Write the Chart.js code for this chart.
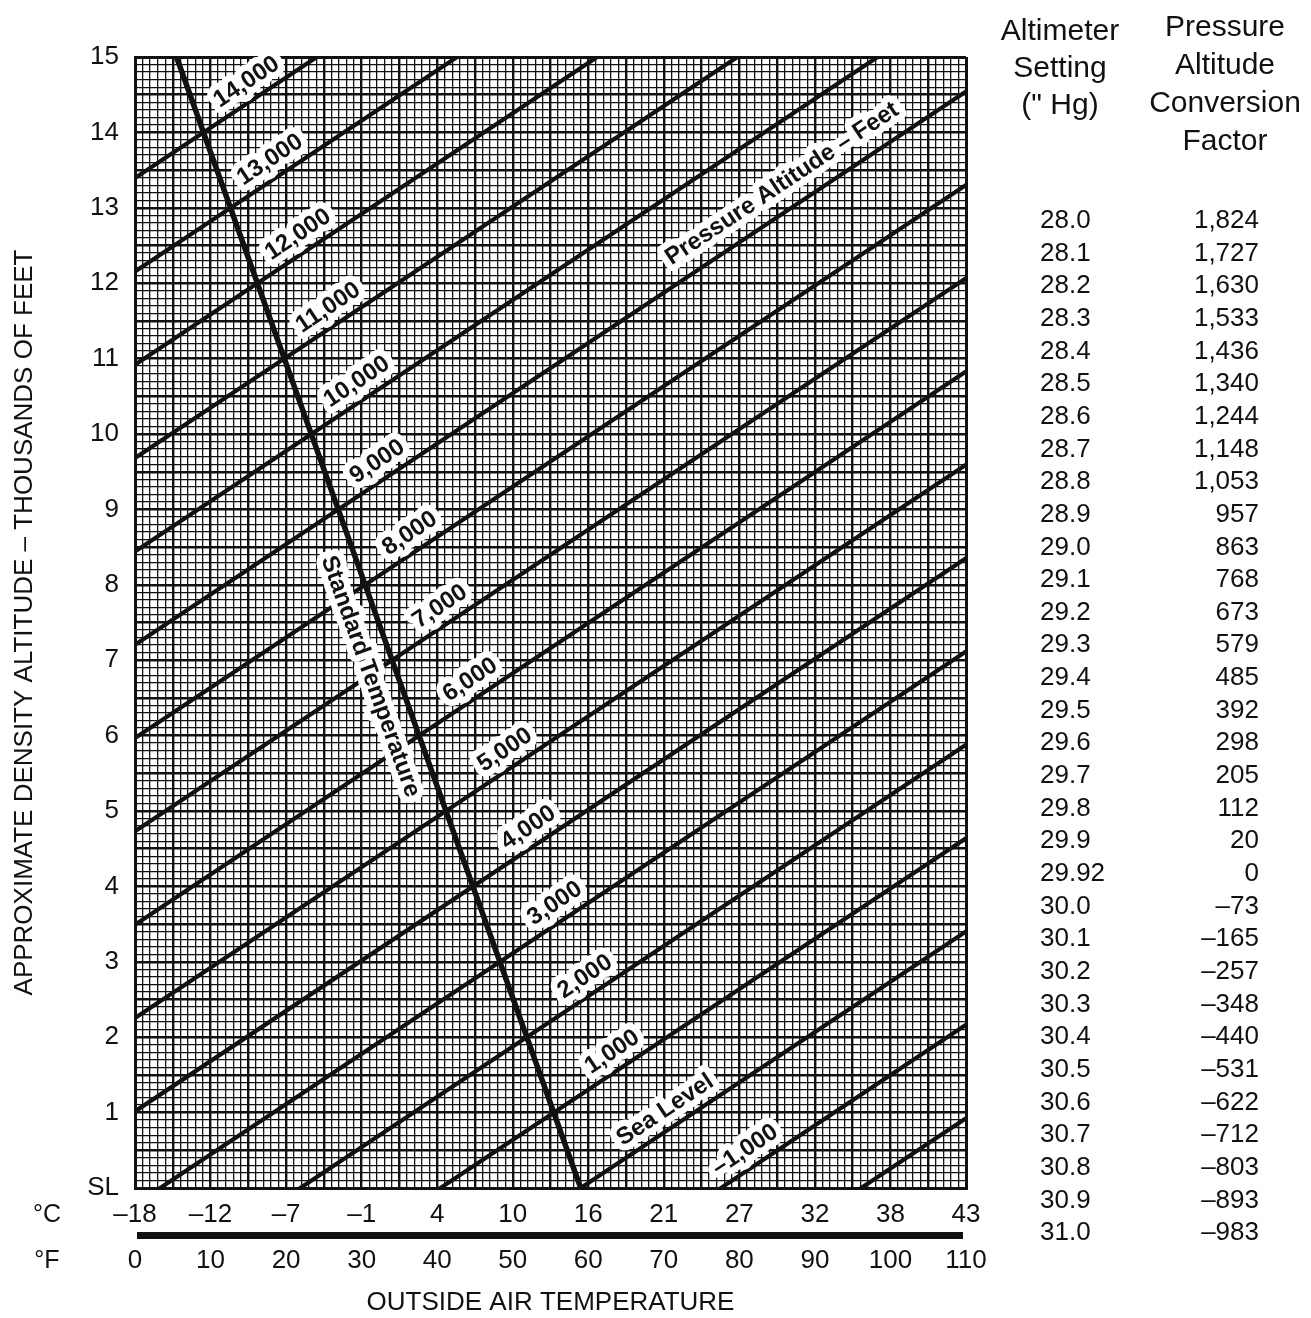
<!DOCTYPE html>
<html>
<head>
<meta charset="utf-8">
<title>Density Altitude Chart</title>
<script src="https://cdn.jsdelivr.net/npm/chart.js@4.4.0/dist/chart.umd.min.js"></script>
<style>
  html, body { margin: 0; padding: 0; background: #fff; }
  body { width: 1311px; height: 1318px; position: relative; overflow: hidden;
         font-family: "Liberation Sans", Arial, Helvetica, sans-serif; color: #111; }
  #chart { position: absolute; left: 0; top: 0; }
  .head { position: absolute; width: 220px; text-align: center; font-size: 30px; }
  .row { position: absolute; font-size: 26px; line-height: 30px; white-space: nowrap; }
</style>
</head>
<body>
<canvas id="chart" width="1311" height="1318"></canvas>
<div class="head" style="left:950px; top:11px; line-height:37px;">Altimeter<br>Setting<br>(" Hg)</div>
<div class="head" style="left:1115px; top:7px; line-height:38px;">Pressure<br>Altitude<br>Conversion<br>Factor</div>
<div id="table"></div>
<script>
const FONT = '"Liberation Sans", Arial, Helvetica, sans-serif';

/** X axis: °F ticks and the °C values printed above them **/
const tempF = [0, 10, 20, 30, 40, 50, 60, 70, 80, 90, 100, 110];
const tempC = ['–18', '–12', '–7', '–1', '4', '10', '16', '21', '27', '32', '38', '43'];

/** Y axis: density altitude (feet) **/
const altTicks = [0, 1000, 2000, 3000, 4000, 5000, 6000, 7000, 8000, 9000, 10000, 11000, 12000, 13000, 14000, 15000];
const altLabels = ['SL', '1', '2', '3', '4', '5', '6', '7', '8', '9', '10', '11', '12', '13', '14', '15'];

/** Pressure altitude lines: density altitude read at 0 °F and at 110 °F **/
const paLines  = [-2000, -1000, 0, 1000, 2000, 3000, 4000, 5000, 6000, 7000, 8000, 9000, 10000, 11000, 12000, 13000, 14000];
const daAt0F   = [-6411, -5173, -3935, -2697, -1459, -222, 1016, 2254, 3492, 4730, 5967, 7205, 8443, 9681, 10919, 12156, 13394];
const daAt110F = [926, 2164, 3402, 4640, 5878, 7115, 8353, 9591, 10829, 12067, 13304, 14542, 15780, 17018, 18256, 19493, 20731];
const paNames  = ['', '–1,000', 'Sea Level', '1,000', '2,000', '3,000', '4,000', '5,000', '6,000', '7,000', '8,000', '9,000', '10,000', '11,000', '12,000', '13,000', '14,000'];
const paNameAt = [null, 82.1, 71.5, 64.5, 60.9, 56.9, 53.4, 50.3, 45.7, 41.7, 37.7, 33.4, 30.7, 26.9, 22.9, 19.2, 16.1];

/** Standard temperature line **/
const stdTemp = [5.5, 59];
const stdAlt = [15000, 0];

/** Altimeter setting table **/
const altimeterSettings = ['28.0', '28.1', '28.2', '28.3', '28.4', '28.5', '28.6', '28.7', '28.8', '28.9',
  '29.0', '29.1', '29.2', '29.3', '29.4', '29.5', '29.6', '29.7', '29.8', '29.9', '29.92',
  '30.0', '30.1', '30.2', '30.3', '30.4', '30.5', '30.6', '30.7', '30.8', '30.9', '31.0'];
const conversionFactors = ['1,824', '1,727', '1,630', '1,533', '1,436', '1,340', '1,244', '1,148', '1,053', '957',
  '863', '768', '673', '579', '485', '392', '298', '205', '112', '20', '0',
  '–73', '–165', '–257', '–348', '–440', '–531', '–622', '–712', '–803', '–893', '–983'];

// table rows (plain text, right of the chart)
const table = document.getElementById('table');
altimeterSettings.forEach((s, i) => {
  const top = 219 + i * 32.65 - 15;
  table.insertAdjacentHTML('beforeend',
    `<div class="row" style="left:1040px;top:${top}px">${s}</div>` +
    `<div class="row" style="right:52px;top:${top}px;text-align:right">${conversionFactors[i]}</div>`);
});

// datasets
const datasets = paLines.map((pa, i) => ({
  label: String(pa),
  data: [{ x: 0, y: daAt0F[i] }, { x: 110, y: daAt110F[i] }],
  borderColor: '#111',
  borderWidth: 4.2,
  pointRadius: 0
}));
datasets.push({
  label: 'std',
  data: stdTemp.map((t, i) => ({ x: t, y: stdAlt[i] })),
  borderColor: '#111',
  borderWidth: 5.5,
  pointRadius: 0
});

function tag(ctx, text, px, py, angle, lift, size) {
  ctx.save();
  ctx.translate(px + Math.sin(angle) * lift, py - Math.cos(angle) * lift);
  ctx.rotate(angle);
  ctx.font = `bold ${size}px ${FONT}`;
  ctx.textAlign = 'center';
  ctx.textBaseline = 'middle';
  ctx.lineJoin = 'round';
  ctx.strokeStyle = '#fff';
  ctx.lineWidth = 13;
  ctx.strokeText(text, 0, 0);
  ctx.fillStyle = '#111';
  ctx.fillText(text, 0, 0);
  ctx.restore();
}

const extras = {
  id: 'extras',
  afterDatasetsDraw(chart) {
    const { ctx, chartArea } = chart;
    const xs = chart.scales.x, ys = chart.scales.y;

    // pressure altitude labels
    paLines.forEach((pa, i) => {
      const p1x = xs.getPixelForValue(0), p1y = ys.getPixelForValue(daAt0F[i]);
      const p2x = xs.getPixelForValue(110), p2y = ys.getPixelForValue(daAt110F[i]);
      const ang = Math.atan2(p2y - p1y, p2x - p1x);
      if (paNameAt[i] != null) {
        const t = paNameAt[i];
        const da = daAt0F[i] + (daAt110F[i] - daAt0F[i]) * t / 110;
        tag(ctx, paNames[i], xs.getPixelForValue(t), ys.getPixelForValue(da), ang, 18, 24);
      }
      if (pa === 9000) {
        const t = 87.5;
        const da = daAt0F[i] + (daAt110F[i] - daAt0F[i]) * t / 110;
        tag(ctx, 'Pressure Altitude – Feet', xs.getPixelForValue(t), ys.getPixelForValue(da), ang, 25, 24);
      }
    });

    // standard temperature label (left of its line)
    const s1x = xs.getPixelForValue(stdTemp[0]), s1y = ys.getPixelForValue(stdAlt[0]);
    const s2x = xs.getPixelForValue(stdTemp[1]), s2y = ys.getPixelForValue(stdAlt[1]);
    const sAng = Math.atan2(s2y - s1y, s2x - s1x);
    const sAlt = 6900;
    const sT = stdTemp[0] + (stdTemp[1] - stdTemp[0]) * (sAlt - stdAlt[0]) / (stdAlt[1] - stdAlt[0]);
    tag(ctx, 'Standard Temperature', xs.getPixelForValue(sT), ys.getPixelForValue(sAlt), sAng, -26, 24);

    // thick bar between the °C and °F rows
    ctx.save();
    ctx.fillStyle = '#111';
    const bx1 = xs.getPixelForValue(0) + 2, bx2 = xs.getPixelForValue(110) - 3;
    ctx.fillRect(bx1, chartArea.bottom + 44, bx2 - bx1, 7);

    // row captions
    ctx.font = `25px ${FONT}`;
    ctx.textAlign = 'center';
    ctx.textBaseline = 'middle';
    ctx.fillText('°C', 47, chartArea.bottom + 27);
    ctx.fillText('°F', 47, chartArea.bottom + 73);
    ctx.restore();
  }
};

new Chart(document.getElementById('chart'), {
  type: 'line',
  data: { datasets },
  options: {
    responsive: false,
    animation: false,
    parsing: false,
    layout: { padding: { left: 0, top: 57, right: 345, bottom: 0 } },
    plugins: { legend: { display: false }, tooltip: { enabled: false } },
    scales: {
      x: {
        type: 'linear',
        position: 'bottom',
        min: 0,
        max: 110,
        afterFit: (scale) => { scale.height = 130; },
        grid: {
          color: '#111',
          drawTicks: false,
          lineWidth: (c) => {
            const v = c.tick ? c.tick.value : 0;
            if (v === 0 || v === 110) return 3;
            return v % 5 === 0 ? 2.4 : 1.3;
          }
        },
        border: { display: true, color: '#111', width: 3 },
        ticks: {
          stepSize: 1,
          autoSkip: false,
          maxRotation: 0,
          minRotation: 0,
          padding: 4,
          color: '#111',
          font: { family: FONT, size: 26, lineHeight: 1.77 },
          callback: (v) => {
            const i = tempF.indexOf(v);
            return i >= 0 ? [tempC[i], String(tempF[i])] : '';
          }
        },
        title: {
          display: true,
          text: 'OUTSIDE AIR TEMPERATURE',
          color: '#111',
          font: { family: FONT, size: 26 },
          padding: { top: 0, bottom: 0 }
        }
      },
      y: {
        type: 'linear',
        min: 0,
        max: 15000,
        afterFit: (scale) => { scale.width = 135; },
        grid: {
          color: '#111',
          drawTicks: false,
          lineWidth: (c) => {
            const v = c.tick ? c.tick.value : 0;
            if (v === 0 || v === 15000) return 3;
            return v % 500 === 0 ? 2.4 : 1.3;
          }
        },
        border: { display: true, color: '#111', width: 3 },
        ticks: {
          stepSize: 100,
          autoSkip: false,
          padding: 16,
          color: '#111',
          font: { family: FONT, size: 26 },
          callback: (v) => {
            const i = altTicks.indexOf(v);
            return i >= 0 ? altLabels[i] : '';
          }
        },
        title: {
          display: true,
          text: 'APPROXIMATE DENSITY ALTITUDE – THOUSANDS OF FEET',
          color: '#111',
          font: { family: FONT, size: 26 },
          padding: { top: 9, bottom: 0 }
        }
      }
    }
  },
  plugins: [extras]
});
</script>
</body>
</html>
